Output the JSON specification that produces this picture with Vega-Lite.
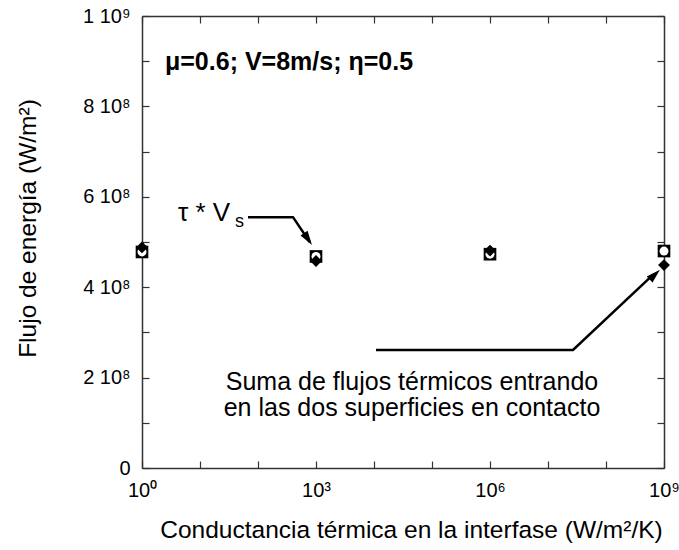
{
  "$schema": "https://vega.github.io/schema/vega-lite/v6.json",
  "width": 522,
  "height": 452,
  "autosize": "none",
  "padding": {"left": 142, "top": 16, "right": 15, "bottom": 82},
  "background": "white",
  "config": {
    "view": {"stroke": null},
    "font": "Liberation Sans",
    "axis": {"grid": false, "domainColor": "#333", "domainWidth": 1.5, "tickColor": "#333", "tickWidth": 1.2, "labelColor": "black", "titleColor": "black", "labelFont": "Liberation Sans", "titleFont": "Liberation Sans", "labelFontSize": 20, "titleFontSize": 24.5, "titleFontWeight": "normal"}
  },
  "datasets": {
    "tau": [
      {"conductancia": 1, "flujo": 478000000},
      {"conductancia": 1000, "flujo": 468000000},
      {"conductancia": 1000000, "flujo": 473000000},
      {"conductancia": 1000000000, "flujo": 480000000}
    ],
    "suma": [
      {"conductancia": 1, "flujo": 488000000},
      {"conductancia": 1000, "flujo": 458000000},
      {"conductancia": 1000000, "flujo": 481000000},
      {"conductancia": 1000000000, "flujo": 449000000}
    ],
    "flechas": [
      {"flecha": "a", "orden": 1, "conductancia": 67.3, "flujo": 555000000},
      {"flecha": "a", "orden": 2, "conductancia": 401, "flujo": 555000000},
      {"flecha": "a", "orden": 3, "conductancia": 780, "flujo": 500000000},
      {"flecha": "b", "orden": 1, "conductancia": 10820, "flujo": 261000000},
      {"flecha": "b", "orden": 2, "conductancia": 27000000, "flujo": 261000000},
      {"flecha": "b", "orden": 3, "conductancia": 650000000, "flujo": 428000000}
    ],
    "puntaA": [{"conductancia": 728, "flujo": 506600000}],
    "puntaB": [{"conductancia": 694000000, "flujo": 427700000}],
    "textos": [
      {"texto": "Suma de flujos térmicos entrando", "conductancia": 45190, "flujo": 190300000},
      {"texto": "en las dos superficies en contacto", "conductancia": 45190, "flujo": 132700000}
    ]
  },
  "layer": [
    {
      "data": {"name": "tau"},
      "mark": {"type": "point", "shape": "square", "filled": true, "color": "black", "opacity": 1, "size": 160},
      "encoding": {
        "x": {"field": "conductancia", "type": "quantitative", "scale": {"type": "log", "domain": [1, 1000000000], "nice": false},
          "axis": {"orient": "bottom", "title": "Conductancia térmica en la interfase (W/m²/K)", "values": [1, 10, 100, 1000, 10000, 100000, 1000000, 10000000, 100000000, 1000000000],
            "labelExpr": "datum.value == 1 ? '10⁰' : datum.value == 1000 ? '10³' : datum.value == 1000000 ? '10⁶' : datum.value == 1000000000 ? '10⁹' : ''",
            "tickSize": -7, "labelPadding": 19, "labelFlush": false, "titleX": 269, "titleY": 50, "titleBaseline": "top"}},
        "y": {"field": "flujo", "type": "quantitative", "scale": {"domain": [0, 1000000000], "nice": false},
          "axis": {"orient": "left", "title": "Flujo de energía (W/m²)", "values": [0, 100000000, 200000000, 300000000, 400000000, 500000000, 600000000, 700000000, 800000000, 900000000, 1000000000],
            "labelExpr": "datum.value == 0 ? '0' : datum.value == 200000000 ? '2 10⁸' : datum.value == 400000000 ? '4 10⁸' : datum.value == 600000000 ? '6 10⁸' : datum.value == 800000000 ? '8 10⁸' : datum.value == 1000000000 ? '1 10⁹' : ''",
            "tickSize": -7, "labelPadding": 19, "labelFlush": false, "titleX": -102, "titleY": 212, "titleBaseline": "bottom"}}
      }
    },
    {
      "data": {"name": "tau"},
      "mark": {"type": "point", "shape": "circle", "filled": true, "color": "white", "opacity": 1, "size": 80},
      "encoding": {
        "x": {"field": "conductancia", "type": "quantitative", "axis": null},
        "y": {"field": "flujo", "type": "quantitative", "axis": null}
      }
    },
    {
      "data": {"name": "suma"},
      "mark": {"type": "point", "shape": "diamond", "filled": true, "color": "black", "opacity": 1, "size": 140},
      "encoding": {
        "x": {"field": "conductancia", "type": "quantitative", "axis": null},
        "y": {"field": "flujo", "type": "quantitative", "axis": null}
      }
    },
    {
      "data": {"name": "flechas"},
      "mark": {"type": "line", "color": "black", "strokeWidth": 2.5, "strokeJoin": "miter"},
      "encoding": {
        "x": {"field": "conductancia", "type": "quantitative", "axis": null},
        "y": {"field": "flujo", "type": "quantitative", "axis": null},
        "detail": {"field": "flecha"},
        "order": {"field": "orden"}
      }
    },
    {
      "data": {"name": "puntaA"},
      "mark": {"type": "point", "shape": "M0,-1L0.6,1L-0.6,1Z", "filled": true, "color": "black", "opacity": 1, "size": 200, "angle": 146},
      "encoding": {
        "x": {"field": "conductancia", "type": "quantitative", "axis": null},
        "y": {"field": "flujo", "type": "quantitative", "axis": null}
      }
    },
    {
      "data": {"name": "puntaB"},
      "mark": {"type": "point", "shape": "M0,-1L0.6,1L-0.6,1Z", "filled": true, "color": "black", "opacity": 1, "size": 200, "angle": 47},
      "encoding": {
        "x": {"field": "conductancia", "type": "quantitative", "axis": null},
        "y": {"field": "flujo", "type": "quantitative", "axis": null}
      }
    },
    {
      "data": {"values": [{"conductancia": 2.49, "flujo": 898000000, "texto": "μ=0.6; V=8m/s; η=0.5"}]},
      "mark": {"type": "text", "align": "left", "baseline": "middle", "fontSize": 25, "fontWeight": "bold", "color": "black"},
      "encoding": {
        "x": {"field": "conductancia", "type": "quantitative", "axis": null},
        "y": {"field": "flujo", "type": "quantitative", "axis": null},
        "text": {"field": "texto"}
      }
    },
    {
      "data": {"values": [{"conductancia": 4.18, "flujo": 564000000, "texto": "τ * V"}]},
      "mark": {"type": "text", "align": "left", "baseline": "middle", "fontSize": 26, "color": "black"},
      "encoding": {
        "x": {"field": "conductancia", "type": "quantitative", "axis": null},
        "y": {"field": "flujo", "type": "quantitative", "axis": null},
        "text": {"field": "texto"}
      }
    },
    {
      "data": {"values": [{"conductancia": 40.1, "flujo": 544000000, "texto": "s"}]},
      "mark": {"type": "text", "align": "left", "baseline": "middle", "fontSize": 18, "color": "black"},
      "encoding": {
        "x": {"field": "conductancia", "type": "quantitative", "axis": null},
        "y": {"field": "flujo", "type": "quantitative", "axis": null},
        "text": {"field": "texto"}
      }
    },
    {
      "data": {"name": "textos"},
      "mark": {"type": "text", "align": "center", "baseline": "middle", "fontSize": 25, "color": "black"},
      "encoding": {
        "x": {"field": "conductancia", "type": "quantitative", "axis": null},
        "y": {"field": "flujo", "type": "quantitative", "axis": null},
        "text": {"field": "texto"}
      }
    },
    {
      "data": {"name": "tau"},
      "mark": {"type": "point", "opacity": 0},
      "encoding": {
        "x": {"field": "conductancia", "type": "quantitative",
          "axis": {"orient": "top", "title": null, "labels": false, "values": [1, 10, 100, 1000, 10000, 100000, 1000000, 10000000, 100000000, 1000000000], "tickSize": -7}},
        "y": {"field": "flujo", "type": "quantitative",
          "axis": {"orient": "right", "title": null, "labels": false, "values": [0, 100000000, 200000000, 300000000, 400000000, 500000000, 600000000, 700000000, 800000000, 900000000, 1000000000], "tickSize": -7}}
      }
    }
  ],
  "resolve": {"axis": {"x": "independent", "y": "independent"}}
}
